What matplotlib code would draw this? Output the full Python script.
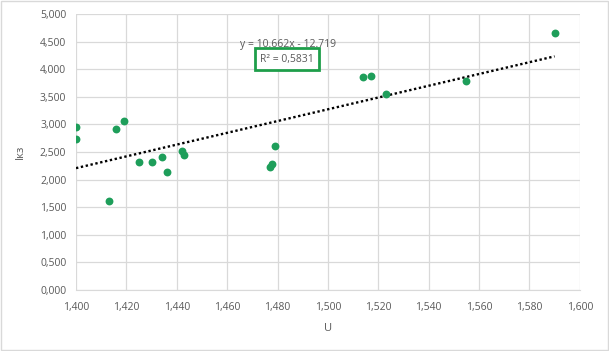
import numpy as np
import matplotlib.pyplot as plt
from matplotlib.ticker import FuncFormatter

# U vs Iкз values
u = [1.400, 1.400, 1.413, 1.416, 1.419, 1.425, 1.430, 1.434, 1.436, 1.442,
     1.443, 1.477, 1.478, 1.479, 1.514, 1.517, 1.523, 1.555, 1.590]
ikz = [2.950, 2.730, 1.610, 2.910, 3.060, 2.315, 2.315, 2.405, 2.135, 2.510,
       2.440, 2.225, 2.280, 2.605, 3.855, 3.875, 3.550, 3.780, 4.650]

# trendline coefficients as shown on the chart
slope = 10.662
intercept = -12.719
eq_text = 'y = 10.662x - 12.719'
r2_text = 'R² = 0,5831'

plt.rcParams['font.family'] = ['Open Sans', 'DejaVu Sans']
grey = '#595959'

fig = plt.figure(figsize=(6.09, 3.51), dpi=100)
ax = fig.add_axes([0.1248, 0.1738, 0.8272, 0.7862])

xt = np.array([min(u), max(u)])
ax.plot(xt, slope * xt + intercept, color='black', linestyle=(0, (1, 1.1)),
        linewidth=1.7, zorder=2)
ax.scatter(u, ikz, s=32, color='#1e9e5a', zorder=3, linewidths=0)

ax.set_xlim(1.4, 1.6)
ax.set_ylim(0, 5)
ax.set_xticks(np.arange(1.4, 1.6001, 0.02))
ax.set_yticks(np.arange(0, 5.001, 0.5))
fmt = FuncFormatter(lambda v, p: f'{v:,.3f}'.replace('.', ','))
ax.xaxis.set_major_formatter(fmt)
ax.yaxis.set_major_formatter(fmt)
ax.tick_params(length=0, labelsize=7.5, colors=grey)
ax.tick_params(axis='x', pad=9)
ax.tick_params(axis='y', pad=7)
ax.grid(True, color='#d9d9d9', linewidth=0.9)
ax.set_axisbelow(True)
for side in ['top', 'right', 'left']:
    ax.spines[side].set_visible(False)
ax.spines['bottom'].set_color('#d9d9d9')

ax.set_xlabel('U', fontsize=8, color=grey, labelpad=7)
ax.set_ylabel('Iкз', fontsize=8, color=grey, labelpad=10)

ax.text(1.4841, 4.457, eq_text, fontsize=7.5, color=grey, ha='center', va='center')
ax.text(1.4837, 4.185, r2_text, fontsize=7.5, color=grey, ha='center', va='center',
        bbox=dict(boxstyle='square,pad=0.5', facecolor='white', edgecolor='#1e9e4a', linewidth=2))

fig.patches.append(plt.Rectangle((0.002, 0.003), 0.996, 0.994, transform=fig.transFigure,
                                 fill=False, edgecolor='#d9d9d9', linewidth=1))

fig.savefig('out.png', dpi=100)
